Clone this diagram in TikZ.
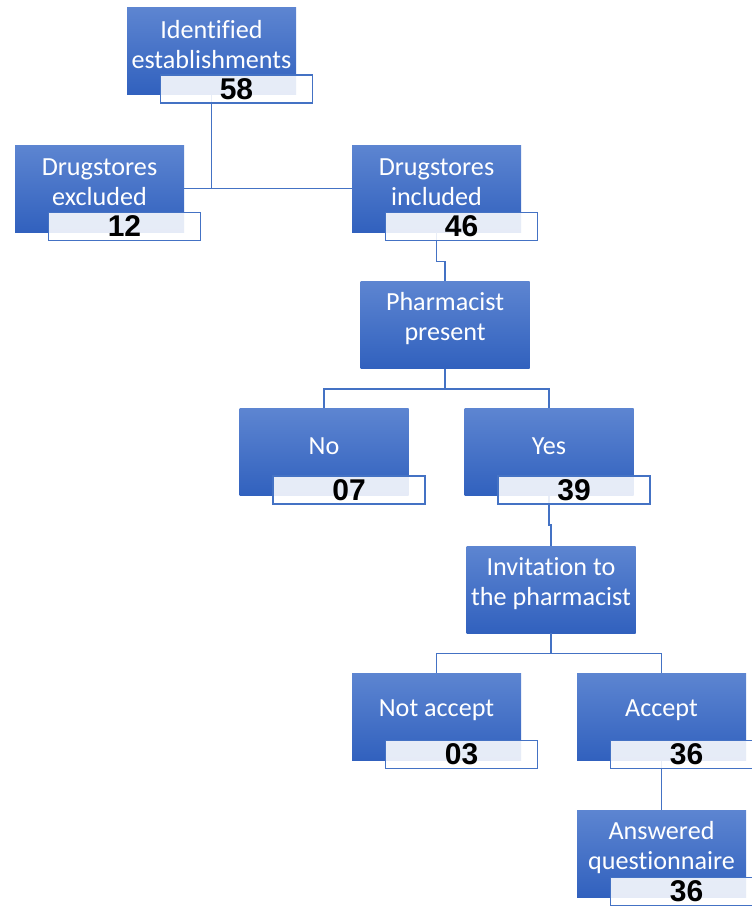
\documentclass[tikz,border=0pt]{standalone}
\usepackage{fontspec}
\setmainfont{Carlito}[Ligatures=NoCommon]
\newfontfamily\numfont{Liberation Sans}
\definecolor{boxtop}{RGB}{93,133,209}
\definecolor{boxbot}{RGB}{49,97,190}
\definecolor{lineblue}{RGB}{68,114,196}
\begin{document}
\begin{tikzpicture}[x=0.75pt,y=-0.75pt,
  bluebox/.style={rectangle,draw=none,top color=boxtop,bottom color=boxbot,
    minimum width=126.75pt,minimum height=65.25pt,inner sep=0pt},
  lbl/.style={text=white,align=center,font=\fontsize{19.6}{22.5}\selectfont,yshift=4.5pt},
  numbox/.style={rectangle,draw=lineblue,line width=1.1pt,fill=white,fill opacity=0.88,text opacity=1,
    minimum width=114pt,minimum height=21pt,inner sep=0pt,
    font=\fontsize{22.5}{24}\selectfont\numfont\bfseries},
  conn/.style={draw=lineblue,line width=1.1pt}]
\useasboundingbox (0,0) rectangle (752,906);
\clip (0,0) rectangle (752,906);
% blue boxes
\node[bluebox] (A) at (211.5,51) {};
\node[bluebox] (B) at (99.5,188.5) {};
\node[bluebox] (C) at (436.5,188.5) {};
\node[bluebox] (D) at (445,325) {};
\node[bluebox] (E) at (324,452) {};
\node[bluebox] (F) at (549,452) {};
\node[bluebox] (G) at (551,589.5) {};
\node[bluebox] (H) at (436.5,716.5) {};
\node[bluebox] (I) at (661.5,716.5) {};
\node[bluebox] (J) at (661.5,853.5) {};
% labels
\node[lbl] (tA) at (A.center) {Identified\\establishments};
\node[lbl] (tB) at (B.center) {Drugstores\\excluded};
\node[lbl] (tC) at (C.center) {Drugstores\\included};
\node[lbl] (tD) at (D.center) {Pharmacist\\present};
\node[lbl] (tE) at (E.center) {No};
\node[lbl] (tF) at (F.center) {Yes};
\node[lbl] (tG) at (G.center) {Invitation to\\the pharmacist};
\node[lbl] (tH) at (H.center) {Not accept};
\node[lbl] (tI) at (I.center) {Accept};
\node[lbl] (tJ) at (J.center) {Answered\\questionnaire};
% connectors
\draw[conn] (A.south) -- (A.south |- B.east);
\draw[conn] (B.east) -- (C.west);
\draw[conn] (C.south) -- ++(0,29) -| (D.north);
\draw[conn] (D.south) -- ++(0,20) coordinate (d1);
\draw[conn] (E.north) |- (d1) -| (F.north);
\draw[conn] (F.south) -- ++(0,29) -| (G.north);
\draw[conn] (G.south) -- ++(0,20) coordinate (g1);
\draw[conn] (H.north) |- (g1) -| (I.north);
\draw[conn] (I.south) -- (J.north);
% number boxes
\node[numbox] (nA) at ([xshift=18.75pt,yshift=-28.5pt]A.center) {58};
\node[numbox] (nB) at ([xshift=18.75pt,yshift=-28.5pt]B.center) {12};
\node[numbox] (nC) at ([xshift=18.75pt,yshift=-28.5pt]C.center) {46};
\node[numbox] (nE) at ([xshift=18.75pt,yshift=-28.5pt]E.center) {07};
\node[numbox] (nF) at ([xshift=18.75pt,yshift=-28.5pt]F.center) {39};
\node[numbox] (nH) at ([xshift=18.75pt,yshift=-28.5pt]H.center) {03};
\node[numbox] (nI) at ([xshift=18.75pt,yshift=-28.5pt]I.center) {36};
\node[numbox] (nJ) at ([xshift=18.75pt,yshift=-28.5pt]J.center) {36};
\end{tikzpicture}
\end{document}
